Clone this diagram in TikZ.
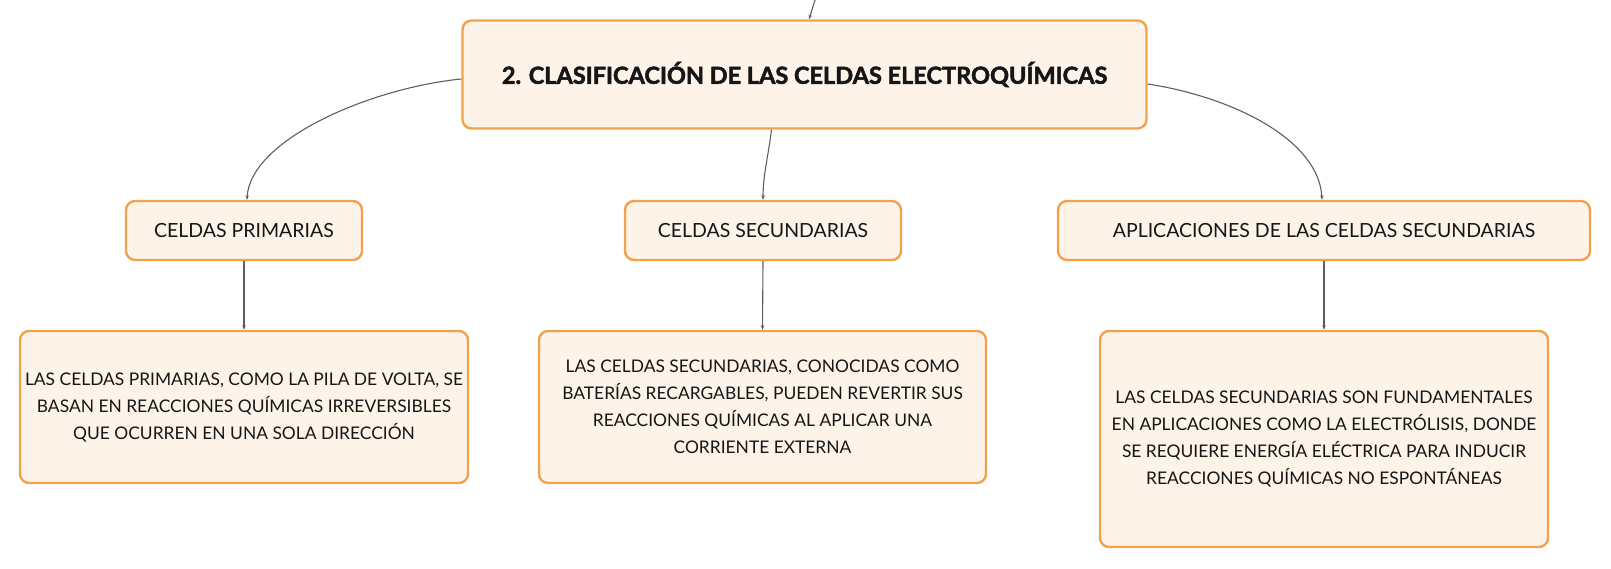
\documentclass[tikz,border=0pt]{standalone}
\usepackage{fontspec}
\setmainfont{Lato}[BoldFeatures={FakeBold=2.2}]
\usepackage{tikz}
\usetikzlibrary{arrows.meta}

\definecolor{boxfill}{HTML}{FDF3E9}
\definecolor{boxline}{HTML}{F2A24C}
\definecolor{linkgray}{HTML}{5E5E5E}
\definecolor{inktext}{HTML}{161616}

\begin{document}
\begin{tikzpicture}[x=1pt,y=-1pt,
    cell/.style={draw=boxline, line width=2.4pt, fill=boxfill, rounded corners=9pt,
      text=inktext, align=center, inner sep=0pt, font=\fontsize{19.5}{27}\selectfont},
    headcell/.style={cell, font=\fontsize{23.5}{27}\selectfont\bfseries},
    leafcell/.style={cell, font=\fontsize{17.4}{27}\selectfont},
    link/.style={draw=linkgray, line width=1.1pt, -{Stealth[length=4.5pt,width=3.5pt]}}]

      \useasboundingbox (0,0) rectangle (1611,569);

      \node[headcell, minimum width=684pt, minimum height=108pt] (T) at (804.5,74.5)
        {2. CLASIFICACIÓN DE LAS CELDAS ELECTROQUÍMICAS};

      \node[cell, minimum width=236pt, minimum height=59pt] (P) at (244,230.5) {CELDAS PRIMARIAS};
      \node[cell, minimum width=276pt, minimum height=59pt] (S) at (763,230.5) {CELDAS SECUNDARIAS};
      \node[cell, minimum width=532pt, minimum height=59pt] (A) at (1324,230.5)
        {APLICACIONES DE LAS CELDAS SECUNDARIAS};

      \node[leafcell, minimum width=448pt, minimum height=152pt] (PT) at (244,407)
        {LAS CELDAS PRIMARIAS, COMO LA PILA DE VOLTA, SE\\
         BASAN EN REACCIONES QUÍMICAS IRREVERSIBLES\\
         QUE OCURREN EN UNA SOLA DIRECCIÓN};
      \node[leafcell, minimum width=447pt, minimum height=152pt] (ST) at (762.5,407)
        {LAS CELDAS SECUNDARIAS, CONOCIDAS COMO\\
         BATERÍAS RECARGABLES, PUEDEN REVERTIR SUS\\
         REACCIONES QUÍMICAS AL APLICAR UNA\\
         CORRIENTE EXTERNA};
      \node[leafcell, minimum width=448pt, minimum height=216pt] (AT) at (1324,439)
        {LAS CELDAS SECUNDARIAS SON FUNDAMENTALES\\
         EN APLICACIONES COMO LA ELECTRÓLISIS, DONDE\\
         SE REQUIERE ENERGÍA ELÉCTRICA PARA INDUCIR\\
         REACCIONES QUÍMICAS NO ESPONTÁNEAS};

      \coordinate (up) at (815,0);
      \draw[link] (up) -- ([xshift=4.5pt]T.north);

      \draw[link] ([yshift=-4.5pt]T.west) .. controls +(-91,9) and +(3,-60) .. ([xshift=3pt]P.north);
      \draw[link] ([xshift=-33pt]T.south) .. controls +(-3,25) and +(0,-25) .. (S.north);
      \draw[link] ([yshift=-9.5pt]T.east) .. controls +(85,13) and +(-3,-60) .. ([xshift=-2pt]A.north);

      \draw[link] (P.south) -- (PT.north);
      \draw[link] (S.south) -- (ST.north);
      \draw[link] (A.south) -- (AT.north);
    \end{tikzpicture}
\end{document}
